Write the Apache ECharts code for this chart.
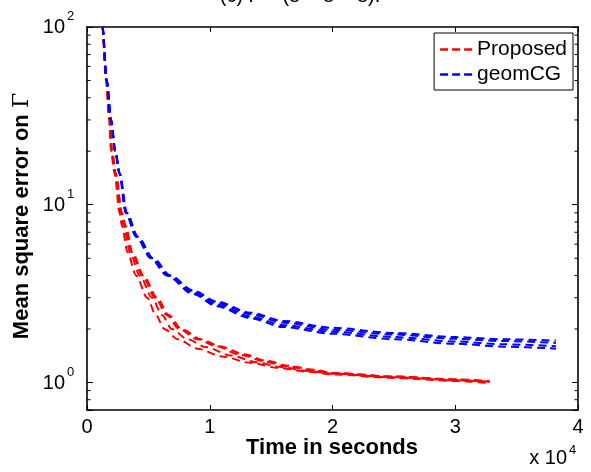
<!DOCTYPE html>
<html><head><meta charset="utf-8">
<script src="https://cdn.jsdelivr.net/npm/echarts@6/dist/echarts.min.js"></script>
<style>html,body{margin:0;padding:0;background:#fff}#c{width:591px;height:472px}</style>
</head><body><div id="c"></div>
<script>
// x in units of 10^4 seconds
const xTickLabels = ['0','1','2','3','4'];
const yTickExponents = [0,1,2];
const xScaleExponent = '4';

const proposedRun1 = [[0.10,140],[0.125,100],[0.155,50],[0.18,30],[0.195,20],[0.225,15],[0.265,9],[0.285,7.6],[0.33,5.4],[0.40,4.0],[0.49,3.0],[0.56,2.4],[0.63,2.0],[0.74,1.75],[0.90,1.55],[1.10,1.40],[1.33,1.29],[1.55,1.21],[1.80,1.15],[2.0,1.11],[2.5,1.06],[3.0,1.02],[3.28,0.99]];
const proposedRun2 = [[0.10,140],[0.125,100],[0.157,50],[0.183,30],[0.2,20],[0.23,15],[0.275,9],[0.30,7.6],[0.35,5.4],[0.43,4.0],[0.53,3.0],[0.61,2.4],[0.69,2.0],[0.82,1.75],[0.97,1.58],[1.17,1.42],[1.38,1.30],[1.58,1.22],[1.80,1.16],[2.0,1.12],[2.5,1.07],[3.0,1.03],[3.28,1.01]];
const proposedRun3 = [[0.10,140],[0.126,100],[0.158,50],[0.185,30],[0.202,20],[0.232,15],[0.28,9],[0.31,7.6],[0.365,5.4],[0.45,4.0],[0.555,3.0],[0.65,2.4],[0.75,2.0],[0.90,1.75],[1.05,1.60],[1.25,1.43],[1.45,1.31],[1.62,1.23],[1.85,1.17],[2.0,1.13],[2.5,1.08],[3.0,1.04],[3.28,1.02]];
const proposedRun4 = [[0.10,140],[0.127,100],[0.16,50],[0.187,30],[0.205,20],[0.235,15],[0.285,9],[0.315,7.6],[0.37,5.4],[0.46,4.0],[0.57,3.0],[0.665,2.4],[0.77,2.0],[0.93,1.75],[1.08,1.60],[1.28,1.44],[1.47,1.32],[1.64,1.24],[1.85,1.18],[2.0,1.13],[2.5,1.08],[3.0,1.04],[3.28,1.01]];

const geomcgRun1 = [[0.10,140],[0.127,100],[0.162,50],[0.197,30],[0.232,20],[0.267,15],[0.325,9],[0.415,6.6],[0.54,5.0],[0.68,4.0],[0.86,3.3],[1.06,2.85],[1.33,2.47],[1.60,2.22],[2.0,2.03],[2.5,1.90],[3.0,1.80],[3.4,1.75],[3.82,1.72]];
const geomcgRun2 = [[0.10,140],[0.126,100],[0.161,50],[0.196,30],[0.231,20],[0.266,15],[0.32,9],[0.41,6.6],[0.535,5.0],[0.67,4.0],[0.86,3.25],[1.06,2.80],[1.33,2.42],[1.60,2.17],[2.0,1.98],[2.5,1.86],[3.0,1.76],[3.4,1.71],[3.82,1.67]];
const geomcgRun3 = [[0.10,140],[0.125,100],[0.16,50],[0.195,30],[0.23,20],[0.265,15],[0.318,9],[0.405,6.6],[0.525,5.0],[0.66,4.0],[0.86,3.2],[1.06,2.74],[1.33,2.35],[1.60,2.10],[2.0,1.93],[2.5,1.80],[3.0,1.70],[3.4,1.64],[3.82,1.60]];
const geomcgRun4 = [[0.10,140],[0.125,100],[0.159,50],[0.194,30],[0.229,20],[0.264,15],[0.315,9],[0.40,6.6],[0.52,5.0],[0.65,4.0],[0.86,3.15],[1.06,2.68],[1.33,2.30],[1.60,2.05],[2.0,1.88],[2.5,1.75],[3.0,1.65],[3.4,1.59],[3.82,1.55]];

const proposedRuns = [proposedRun1, proposedRun2, proposedRun3, proposedRun4];
const geomcgRuns = [geomcgRun1, geomcgRun2, geomcgRun3, geomcgRun4];

const FONT = "'Liberation Sans', Arial, Helvetica, sans-serif";
const RED = '#ff0000', BLUE = '#0000ff';
const dashIcon = 'path://M0,0h8v2.5h-8z M12,0h8v2.5h-8z M24,0h8v2.5h-8z';

function mk(name, color, data) {
  return {type:'line', name, data, symbol:'none', showSymbol:false, color: color,
    itemStyle:{color}, lineStyle:{color, width:2, type:[8,5]},
    smooth:0.3, smoothMonotone:'x', clip:true, animation:false, silent:true};
}

const series = [];
proposedRuns.forEach(r => series.push(mk('Proposed', RED, r)));
geomcgRuns.forEach(r => series.push(mk('geomCG', BLUE, r)));

const chart = echarts.init(document.getElementById('c'), null, {renderer:'canvas'});
const axisLineStyle = {color:'#000', width:1.6};

const texts = [
  {type:'text', x:332, y:448, style:{text:'Time in seconds', font:"bold 22px " + FONT, fill:'#000', textAlign:'center', textVerticalAlign:'middle'}},
  {type:'text', x:22, y:216, rotation:Math.PI/2, style:{text:'{b|Mean square error on }{g|Γ}', fill:'#000', textAlign:'center', textVerticalAlign:'middle',
     rich:{b:{fontSize:22, fontWeight:'bold', fontFamily:FONT}, g:{fontSize:22, fontFamily:"'DejaVu Serif', 'Liberation Serif', serif"}}}},
  {type:'text', x:567, y:458.5, style:{text:'x 10', font:"20px " + FONT, fill:'#000', textAlign:'right', textVerticalAlign:'middle'}},
  {type:'text', x:569, y:450.5, style:{text:xScaleExponent, font:"13px " + FONT, fill:'#000', textAlign:'left', textVerticalAlign:'middle'}},
  {type:'text', x:300, y:6, style:{text:'(c) Γ = (8 × 8 × 8).', font:"20px " + FONT, fill:'#000', textAlign:'center', textVerticalAlign:'bottom'}}
];

chart.setOption({
  animation:false,
  backgroundColor:'#fff',
  grid:{left:87, right:13, top:27, bottom:62, containLabel:false},
  legend:{orient:'vertical', right:18, top:33, padding:[6,6,5,6], itemGap:4, itemWidth:32, itemHeight:2.5,
    backgroundColor:'#fff', borderColor:'#000', borderWidth:1, borderRadius:0,
    textStyle:{fontSize:21, fontFamily:FONT, color:'#000'},
    data:[{name:'Proposed', icon:dashIcon, itemStyle:{color:RED}}, {name:'geomCG', icon:dashIcon, itemStyle:{color:BLUE}}]},
  xAxis:[
    {type:'value', min:0, max:4, interval:1, position:'bottom',
      axisLine:{show:true, onZero:false, lineStyle:axisLineStyle},
      axisTick:{show:true, inside:true, length:5, lineStyle:{color:'#000', width:1}},
      axisLabel:{fontSize:20, fontFamily:FONT, color:'#000', margin:7, formatter:(v)=>xTickLabels[Math.round(v)]},
      splitLine:{show:false}},
    {type:'value', min:0, max:4, interval:1, position:'top',
      axisLine:{show:true, onZero:false, lineStyle:axisLineStyle},
      axisTick:{show:true, inside:true, length:5, lineStyle:{color:'#000', width:1}},
      axisLabel:{show:false}, splitLine:{show:false}}
  ],
  yAxis:[
    {type:'log', logBase:10, min:0.7, max:100, position:'left',
      axisLine:{show:true, onZero:false, lineStyle:axisLineStyle},
      axisTick:{show:true, inside:true, length:6, lineStyle:{color:'#000', width:1}},
      axisLabel:{show:false},
      splitLine:{show:false}, minorTick:{show:false}},
    {type:'log', logBase:10, min:0.7, max:100, position:'right',
      axisLine:{show:true, onZero:false, lineStyle:axisLineStyle},
      axisTick:{show:true, inside:true, length:6, lineStyle:{color:'#000', width:1}},
      axisLabel:{show:false}, splitLine:{show:false}}
  ],
  series: series,
  graphic: texts
});

// y tick labels 10^e placed through the axis scale
const extra = [];
yTickExponents.forEach(e => {
  const p = chart.convertToPixel({xAxisIndex:0, yAxisIndex:0}, [0, Math.pow(10, e)]);
  extra.push({type:'text', x:p[0]-22, y:p[1]+0.7, style:{text:'10', font:"20px " + FONT, fill:'#000', textAlign:'right', textVerticalAlign:'middle'}});
  extra.push({type:'text', x:p[0]-20, y:p[1]-10.5, style:{text:String(e), font:"13px " + FONT, fill:'#000', textAlign:'left', textVerticalAlign:'middle'}});
});
// minor ticks of the log axis (2..9 in each decade), placed through the axis scale
const minorVals = [];
[0.1, 1, 10].forEach(d => { for (let k = 2; k <= 9; k++) { const v = +(k*d).toFixed(3); if (v >= 0.7 && v < 100) minorVals.push(v); } });
minorVals.forEach(v => {
  const pL = chart.convertToPixel({xAxisIndex:0, yAxisIndex:0}, [0, v]);
  const pR = chart.convertToPixel({xAxisIndex:0, yAxisIndex:0}, [4, v]);
  extra.push({type:'line', shape:{x1:pL[0], y1:pL[1], x2:pL[0]+3.5, y2:pL[1]}, style:{stroke:'#000', lineWidth:1}, silent:true, z:50});
  extra.push({type:'line', shape:{x1:pR[0]-3.5, y1:pR[1], x2:pR[0], y2:pR[1]}, style:{stroke:'#000', lineWidth:1}, silent:true, z:50});
});
chart.setOption({graphic: texts.concat(extra)});
</script>
</body></html>
